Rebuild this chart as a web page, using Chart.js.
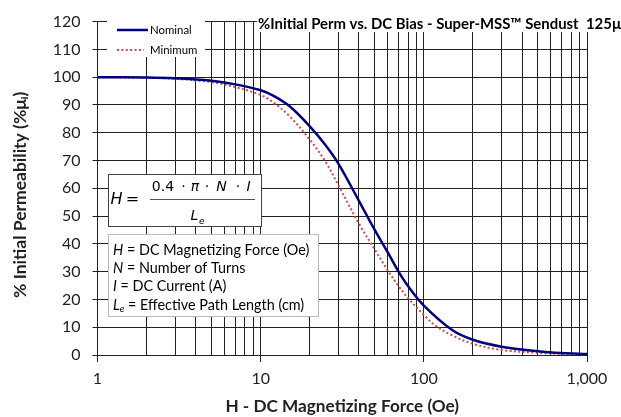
<!DOCTYPE html>
<html lang="en">
<head>
<meta charset="utf-8">
<title>%Initial Perm vs. DC Bias - Super-MSS Sendust 125µ</title>
<script src="https://cdn.jsdelivr.net/npm/chart.js@4.4.1/dist/chart.umd.min.js"></script>
<style>
  html, body { margin: 0; padding: 0; background: #fff; }
</style>
</head>
<body>
<canvas id="myChart" width="621" height="417"></canvas>

<script>
// values
var hNominal = [1, 2, 3, 5, 7, 10, 12, 15, 20, 25, 30, 40, 50, 60, 70, 80, 100, 150, 200, 300, 500, 700, 1000];
var permNominal = [100, 99.9, 99.6, 98.7, 97.4, 95.3, 93.3, 89.6, 82.3, 75.5, 68.8, 55.5, 45, 37, 30, 24.8, 17.8, 8.9, 5.5, 3.0, 1.35, 0.7, 0.35];

var hMinimum = [1, 2, 3, 5, 7, 10, 12, 15, 20, 25, 30, 40, 50, 60, 70, 80, 100, 120, 150, 200, 300, 500, 700, 1000];
var permMinimum = [100, 99.8, 99.4, 98.2, 96.4, 93.6, 90.8, 86, 77.5, 69.5, 61, 47.3, 38, 30.5, 24.8, 20.5, 14.4, 10.2, 7.0, 4.0, 1.8, 0.8, 0.45, 0.3];

var xGridValues = [1, 2, 3, 4, 5, 6, 7, 8, 9, 10, 20, 30, 40, 50, 60, 70, 80, 90,
                   100, 200, 300, 400, 500, 600, 700, 800, 900, 1000];
var xMajorValues = [1, 10, 100, 1000];
var xMajorLabels = ['1', '10', '100', '1,000'];
var yTickValues = [0, 10, 20, 30, 40, 50, 60, 70, 80, 90, 100, 110, 120];

var chartTitle = '%Initial Perm vs. DC Bias - Super-MSS\u2122 Sendust  125\u00b5';
var legendNames = ['Nominal', 'Minimum'];
var keyLines = [
  ['H', ' = DC Magnetizing Force (Oe)'],
  ['N', ' = Number of Turns'],
  ['I', ' = DC Current (A)'],
  ['L', ' = Effective Path Length (cm)']
];

function toPoints(xs, ys) {
  return xs.map(function (x, i) { return { x: x, y: ys[i] }; });
}

/* boxes drawn on top of the plot: title, legend, formula and key */
var overlay = {
  id: 'overlay',
  afterDraw: function (chart) {
    var c = chart.ctx;
    var ds = chart.data.datasets;
    c.save();
    c.textBaseline = 'middle';

    // title
    c.fillStyle = '#fff';
    c.fillRect(257, 17, 364, 15);
    c.fillStyle = '#000';
    c.font = 'bold 14.9px Lato';
    c.fillText(chartTitle, 258, 24.5);

    // legend
    c.fillStyle = '#fff';
    c.fillRect(107, 16, 98, 41);
    for (var i = 0; i < ds.length; i++) {
      var y = 30 + i * 20;
      c.strokeStyle = ds[i].borderColor;
      c.lineWidth = ds[i].borderWidth;
      c.setLineDash(ds[i].borderDash || []);
      c.beginPath();
      c.moveTo(117, y);
      c.lineTo(i == 0 ? 148 : 144, y);
      c.stroke();
      c.setLineDash([]);
      c.fillStyle = '#000';
      c.font = '11.4px Lato';
      c.fillText(legendNames[i], 150, y);
    }

    // formula box
    c.fillStyle = '#fff';
    c.fillRect(108.5, 174.5, 153, 52);
    c.strokeStyle = '#444';
    c.lineWidth = 1;
    c.strokeRect(108.5, 174.5, 153, 52);
    c.fillStyle = '#000';
    c.textAlign = 'center';
    c.font = 'italic 16px "DejaVu Sans"';
    c.fillText('H', 116.5, 200);
    c.font = '16px "DejaVu Sans"';
    c.fillText('=', 132.5, 200);
    var parts = [['0.4', '', 163], ['\u00b7', '', 183.5], ['\u03c0', 'italic ', 195],
                 ['\u00b7', '', 207], ['N', 'italic ', 221.5], ['\u00b7', '', 238], ['I', 'italic ', 248.5]];
    parts.forEach(function (p) {
      c.font = p[1] + '14px "DejaVu Sans"';
      c.fillText(p[0], p[2], 187);
    });
    c.strokeStyle = '#555';
    c.beginPath();
    c.moveTo(150, 199.5);
    c.lineTo(255, 199.5);
    c.stroke();
    c.textAlign = 'left';
    c.font = 'italic 14px "DejaVu Sans"';
    c.fillText('L', 190.5, 216.5);
    c.font = 'italic 9px "DejaVu Sans"';
    c.fillText('e', 199, 221.5);

    // key box
    c.fillStyle = '#fff';
    c.fillRect(108.5, 234.5, 210, 82);
    c.strokeStyle = '#bbb';
    c.strokeRect(108.5, 234.5, 210, 82);
    c.fillStyle = '#000';
    keyLines.forEach(function (k, i) {
      var ly = 250 + i * 18.3;
      c.font = 'italic 14.4px Lato';
      c.fillText(k[0], 113, ly);
      var w = c.measureText(k[0]).width;
      if (i == 3) {
        c.font = 'italic 9.5px Lato';
        c.fillText('e', 113 + w, ly + 4);
        w += c.measureText('e').width;
      }
      c.font = '14.4px Lato';
      c.fillText(k[1], 113 + w, ly);
    });
    c.restore();
  }
};

var ctx = document.getElementById('myChart').getContext('2d');
var chart = new Chart(ctx, {
  type: 'line',
  data: {
    datasets: [{
      label: legendNames[0],
      data: toPoints(hNominal, permNominal),
      borderColor: '#000080',
      borderWidth: 2.5,
      pointRadius: 0,
      tension: 0.35
    }, {
      label: legendNames[1],
      data: toPoints(hMinimum, permMinimum),
      borderColor: '#d0484a',
      borderWidth: 2,
      borderDash: [2, 2.4],
      pointRadius: 0,
      tension: 0.35
    }]
  },
  options: {
    responsive: false,
    animation: false,
    layout: { padding: { top: 13, right: 34, left: 0, bottom: 0 } },
    plugins: {
      legend: { display: false },
      tooltip: { enabled: false }
    },
    scales: {
      x: {
        type: 'logarithmic',
        min: 1,
        max: 1000,
        afterBuildTicks: function (scale) {
          scale.ticks = xGridValues.map(function (v) {
            return { value: v, major: xMajorValues.indexOf(v) >= 0 };
          });
        },
        afterFit: function (scale) { scale.height = 62; },
        ticks: {
          autoSkip: false,
          maxRotation: 0,
          padding: 7,
          color: '#222',
          font: { family: 'Lato', size: 16 },
          callback: function (value) {
            var k = xMajorValues.indexOf(value);
            return k >= 0 ? xMajorLabels[k] : '';
          }
        },
        grid: {
          color: '#222',
          lineWidth: 1,
          tickLength: 7,
          tickColor: function (context) {
            return context.tick && xMajorValues.indexOf(context.tick.value) >= 0 ? '#222' : 'rgba(0,0,0,0)';
          }
        },
        border: { color: '#222' },
        title: {
          display: true,
          text: 'H - DC Magnetizing Force (Oe)',
          color: '#222',
          font: { family: 'Lato', size: 17.2, weight: 'bold', lineHeight: 1 },
          padding: { top: 0, bottom: 1.5 }
        }
      },
      y: {
        min: 0,
        max: 120,
        afterBuildTicks: function (scale) {
          scale.ticks = yTickValues.map(function (v) { return { value: v }; });
        },
        afterFit: function (scale) { scale.width = 97.5; },
        ticks: {
          padding: 12,
          color: '#222',
          font: { family: 'Lato', size: 16 }
        },
        grid: { color: '#222', lineWidth: 1, tickLength: 5 },
        border: { color: '#222' },
        title: {
          display: true,
          // trailing space nudges the text down, as in the original layout
          text: '% Initial Permeability (%\u03bc\u1d62)\u2002 ',
          color: '#222',
          font: { family: 'Lato', size: 17.5, weight: 'bold', lineHeight: 1 },
          padding: { top: 11.5, bottom: 0 }
        }
      }
    }
  },
  plugins: [overlay]
});
</script>
</body>
</html>
